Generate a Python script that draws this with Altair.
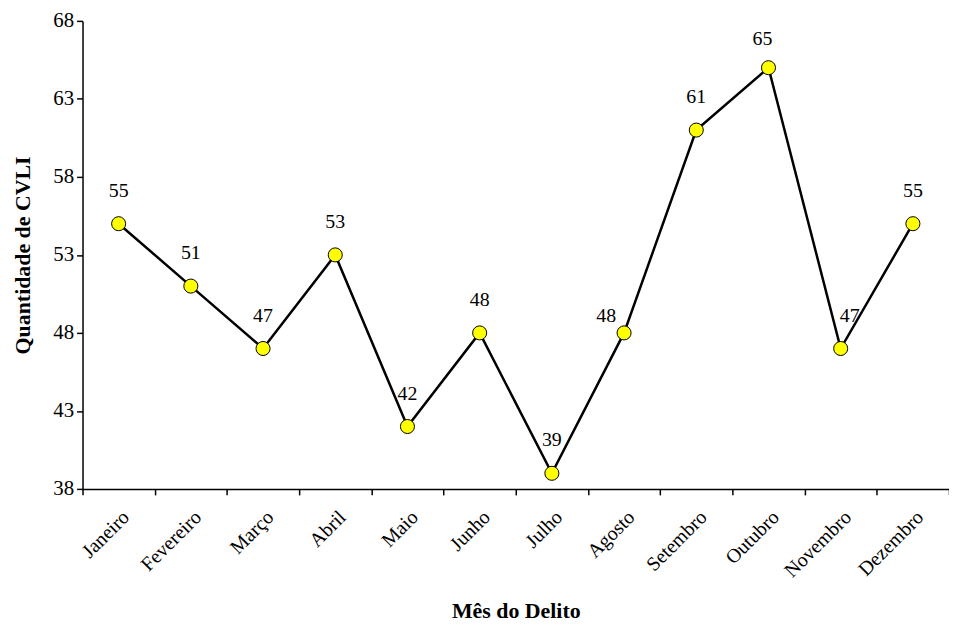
import altair as alt
import pandas as pd

meses = ["Janeiro", "Fevereiro", "Março", "Abril", "Maio", "Junho", "Julho",
         "Agosto", "Setembro", "Outubro", "Novembro", "Dezembro"]
valores = [55, 51, 47, 53, 42, 48, 39, 48, 61, 65, 47, 55]
y_ticks = [38, 43, 48, 53, 58, 63, 68]

df = pd.DataFrame({"mes": meses, "valor": valores})

FONT = "Liberation Serif"

x_enc = alt.X("mes:N", sort=meses, title="Mês do Delito",
              scale=alt.Scale(paddingInner=0, paddingOuter=0),
              axis=alt.Axis(labelAngle=-45, labelAlign="right", labelBaseline="top",
                            labelFontSize=20, labelFont=FONT, labelColor="black",
                            labelPadding=12, tickBand="extent", tickSize=6,
                            tickColor="black", domainColor="black", domainWidth=1.5,
                            tickWidth=1.5,
                            titleFont=FONT, titleFontSize=22, titleFontWeight="bold",
                            titleColor="black", titleY=129, titleBaseline="alphabetic"))
y_enc = alt.Y("valor:Q", title="Quantidade  de CVLI",
              scale=alt.Scale(domain=[38, 68], nice=False, zero=False),
              axis=alt.Axis(values=y_ticks, grid=False, labelFontSize=21, labelFont=FONT,
                            labelColor="black", tickSize=6, tickColor="black",
                            tickWidth=1.5, domainWidth=1.5,
                            domainColor="black", labelPadding=3,
                            titleFont=FONT, titleFontSize=22, titleFontWeight="bold",
                            titleColor="black", titlePadding=18))

base = alt.Chart(df).encode(x=x_enc, y=y_enc)

line = base.mark_line(color="black", strokeWidth=2.5)
points = base.mark_point(filled=True, fill="#FFFF00", stroke="black", strokeWidth=1,
                         size=200, opacity=1, shape="circle")

txt_style = dict(font=FONT, fontSize=20, color="black", baseline="middle")
normal = ["Janeiro", "Fevereiro", "Março", "Abril", "Maio", "Junho", "Julho",
          "Setembro", "Dezembro"]
labels = base.mark_text(dy=-33, **txt_style).encode(text="valor:Q").transform_filter(
    alt.FieldOneOfPredicate(field="mes", oneOf=normal))
lab_ago = base.mark_text(dy=-17, dx=-18, **txt_style).encode(text="valor:Q").transform_filter(
    alt.datum.mes == "Agosto")
lab_out = base.mark_text(dy=-29, dx=-6, **txt_style).encode(text="valor:Q").transform_filter(
    alt.datum.mes == "Outubro")
lab_nov = base.mark_text(dy=-33, dx=9, **txt_style).encode(text="valor:Q").transform_filter(
    alt.datum.mes == "Novembro")

chart = alt.layer(line, points, labels, lab_ago, lab_out, lab_nov).properties(
    width=872, height=471,
    background="white",
    autosize=alt.AutoSizeParams(type="none"),
    padding={"left": 75, "top": 11, "right": 0, "bottom": 136},
).configure_view(stroke=None)

chart.save("out.html", embed_options={"renderer": "svg", "actions": False})
